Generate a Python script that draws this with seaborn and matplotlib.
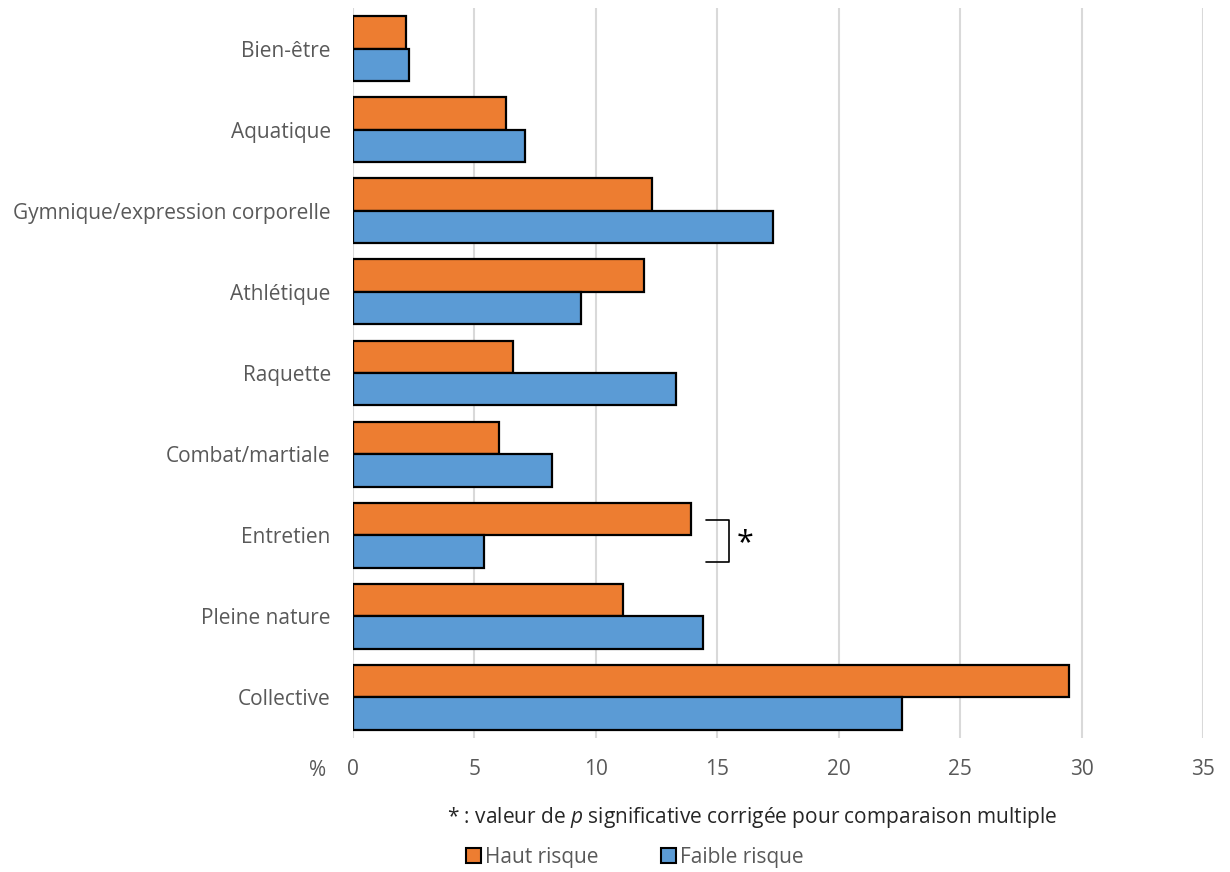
import matplotlib
matplotlib.use("Agg")
import matplotlib.pyplot as plt
import seaborn as sns
import pandas as pd
from matplotlib.patches import Patch

# data (%)
categories = ['Bien-être', 'Aquatique', 'Gymnique/expression corporelle', 'Athlétique',
              'Raquette', 'Combat/martiale', 'Entretien', 'Pleine nature', 'Collective']
haut_risque = [2.2, 6.3, 12.3, 12.0, 6.6, 6.0, 13.9, 11.1, 29.5]
faible_risque = [2.3, 7.1, 17.3, 9.4, 13.3, 8.2, 5.4, 14.4, 22.6]
groups = ['Haut risque', 'Faible risque']
x_ticks = [0, 5, 10, 15, 20, 25, 30, 35]

ORANGE = '#ED7D31'
BLUE = '#5B9BD5'
GREY = '#595959'

df = pd.DataFrame({
    'cat': categories * 2,
    'grp': [groups[0]] * len(categories) + [groups[1]] * len(categories),
    'val': haut_risque + faible_risque,
})

sns.set_style('white')
plt.rcParams['font.family'] = ['Open Sans', 'DejaVu Sans']
plt.rcParams['mathtext.fontset'] = 'custom'
plt.rcParams['mathtext.it'] = 'Open Sans:italic'
plt.rcParams['mathtext.rm'] = 'Open Sans'

fig = plt.figure(figsize=(12.3, 8.72), dpi=100)
ax = fig.add_axes([353 / 1230, 1 - 738 / 872, (1203 - 353) / 1230, (738 - 8) / 872])

sns.barplot(data=df, y='cat', x='val', hue='grp', order=categories, hue_order=groups,
            palette=[ORANGE, BLUE], orient='h', width=0.8, edgecolor='black',
            linewidth=1.6, legend=False, ax=ax, saturation=1)

ax.set_xlim(0, 35)
ax.set_ylim(len(categories) - 0.5, -0.5)
ax.set_xticks(x_ticks)
ax.set_xticklabels([str(t) for t in x_ticks])
ax.xaxis.grid(True, color='#d9d9d9', linewidth=1.5)
ax.yaxis.grid(False)
ax.set_axisbelow(True)
for s in ax.spines.values():
    s.set_visible(False)
ax.set_xlabel('')
ax.set_ylabel('')
ax.tick_params(axis='x', length=0, pad=15, labelsize=15, labelcolor=GREY)
ax.tick_params(axis='y', length=0, pad=16, labelsize=15, labelcolor=GREY)

# significance bracket for Entretien
e = categories.index('Entretien')
ax.plot([14.55, 15.47, 15.47, 14.55], [e - 0.19, e - 0.19, e + 0.33, e + 0.33],
        color='black', linewidth=1.2, clip_on=False)
ax.text(16.15, e + 0.1, '*', fontsize=22, ha='center', va='center', color='black')

fig.text(318 / 1230, 1 - 770 / 872, '%', fontsize=15, color=GREY, ha='center', va='center')
fig.text(447 / 1230, 1 - 817 / 872,
         r'* : valeur de $\it{p}$ significative corrigée pour comparaison multiple',
         fontsize=15, color='#262626', ha='left', va='center')

handles = [Patch(facecolor=ORANGE, edgecolor='black', linewidth=1.5),
           Patch(facecolor=BLUE, edgecolor='black', linewidth=1.5)]
fig.legend(handles, groups, loc='center', bbox_to_anchor=(635 / 1230, 1 - 857 / 872),
           ncol=2, frameon=False, fontsize=15, handlelength=0.7, handleheight=0.7,
           handletextpad=0.2, columnspacing=3.0, labelcolor=GREY)

fig.savefig('out.png', dpi=100)
